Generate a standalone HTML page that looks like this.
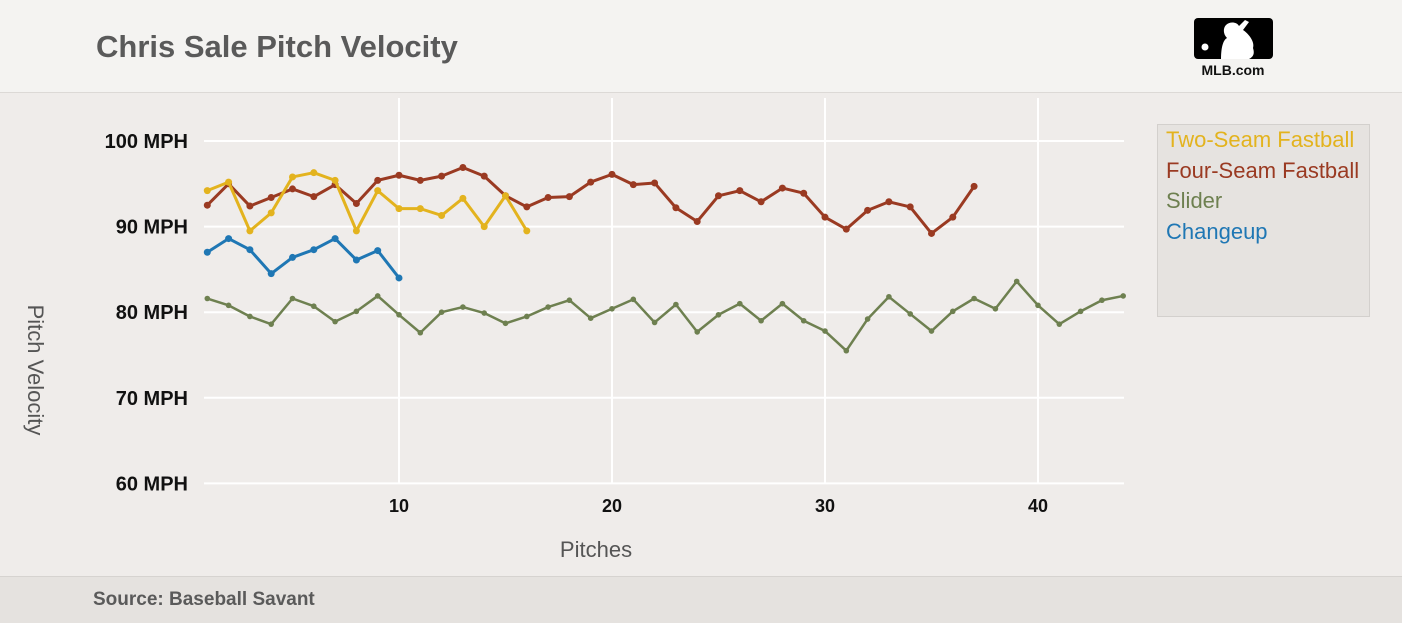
<!DOCTYPE html>
<html><head><meta charset="utf-8"><style>
body{margin:0;width:1402px;height:622px;overflow:hidden;background:#efecea;font-family:"Liberation Sans",sans-serif;}
#hdr{position:absolute;left:0;top:0;width:1402px;height:92px;background:#f4f3f1;border-bottom:1px solid #dcd9d6;}
#title{position:absolute;left:96px;top:29px;font-size:31px;font-weight:bold;color:#5a5a5a;}
#ftr{position:absolute;left:0;top:576px;width:1402px;height:46px;background:#e5e2df;border-top:1px solid #d6d3d0;}
#src{position:absolute;left:93px;top:12px;font-size:19px;font-weight:bold;color:#5a5a5a;}
#legend{position:absolute;left:1157px;top:124px;width:211px;height:191px;background:#e6e3e0;border:1px solid #d3d0cd;}
.li{position:absolute;left:8px;font-size:22px;white-space:nowrap;}
</style></head><body>
<div id="hdr">
<div id="title">Chris Sale Pitch Velocity</div>
<svg style="position:absolute;left:1193px;top:18px" width="82" height="62">
<rect x="1" y="0" width="79" height="41" rx="4" fill="#000"/>
<circle cx="12" cy="29" r="3.5" fill="#fff"/>
<path d="M28 41 C28 30 30 22 34 20 C30 16 30 10 33 7 C37 3 44 4 46 8 L52 2 L56 4 L50 12 C56 16 62 24 60 30 C62 36 60 39 56 41 Z" fill="#fff"/>
<text x="40" y="57" text-anchor="middle" font-size="14" font-weight="bold" font-family="Liberation Sans,sans-serif" fill="#111">MLB.com</text>
</svg>
</div>
<svg id="chart" style="position:absolute;left:0;top:0" width="1402" height="576"></svg>
<div id="legend">
<div class="li" style="top:2px;color:#e3b31e">Two-Seam Fastball</div>
<div class="li" style="top:33px;color:#9a3a22">Four-Seam Fastball</div>
<div class="li" style="top:63px;color:#6e8050">Slider</div>
<div class="li" style="top:94px;color:#1f77b4">Changeup</div>
</div>
<div id="ftr"><div id="src">Source: Baseball Savant</div></div>
<script>
const yTicks=[60,70,80,90,100];
const xTicks=[10,20,30,40];
const twoSeam=[94.2,95.2,89.5,91.6,95.8,96.3,95.4,89.5,94.2,92.1,92.1,91.3,93.3,90.0,93.6,89.5];
const fourSeam=[92.5,95.0,92.4,93.4,94.4,93.5,94.9,92.7,95.4,96.0,95.4,95.9,96.9,95.9,93.6,92.3,93.4,93.5,95.2,96.1,94.9,95.1,92.2,90.6,93.6,94.2,92.9,94.5,93.9,91.1,89.7,91.9,92.9,92.3,89.2,91.1,94.7];
const slider=[81.6,80.8,79.5,78.6,81.6,80.7,78.9,80.1,81.9,79.7,77.6,80.0,80.6,79.9,78.7,79.5,80.6,81.4,79.3,80.4,81.5,78.8,80.9,77.7,79.7,81.0,79.0,81.0,79.0,77.8,75.5,79.2,81.8,79.8,77.8,80.1,81.6,80.4,83.6,80.8,78.6,80.1,81.4,81.9];
const changeup=[87.0,88.6,87.3,84.5,86.4,87.3,88.6,86.1,87.2,84.0];
const NS='http://www.w3.org/2000/svg';
const svg=document.getElementById('chart');
const X=v=>399+(v-10)*21.3;
const Y=v=>141+(100-v)*8.56;
function mk(t,a,p){const e=document.createElementNS(NS,t);for(const k in a)e.setAttribute(k,a[k]);(p||svg).appendChild(e);return e;}
yTicks.forEach(t=>{
 const l=mk('line',{x1:204,x2:1124,y1:Y(t),y2:Y(t),stroke:'#fff','stroke-width':2});
 
 
 const tx=mk('text',{x:188,y:Y(t)+7,'text-anchor':'end','font-size':20,'font-weight':'bold',fill:'#111'});
 tx.textContent=t+' MPH';
 
 
});
xTicks.forEach(t=>{
 const l=mk('line',{x1:X(t),x2:X(t),y1:98,y2:Y(60),stroke:'#fff','stroke-width':2});
 
 
 const tx=mk('text',{x:X(t),y:512,'text-anchor':'middle','font-size':18,'font-weight':'bold',fill:'#111'});
 tx.textContent=t;
 
 
});
const xt=mk('text',{x:596,y:557,'text-anchor':'middle','font-size':22,fill:'#555'});xt.textContent='Pitches';


const yt=mk('text',{x:0,y:0,'text-anchor':'middle','font-size':22,fill:'#555',transform:'translate(28,370) rotate(90)'});yt.textContent='Pitch Velocity';


function series(data,color,name,w,r){
 const g=mk('g',{});
 
 
 const pts=data.map((v,i)=>X(i+1)+','+Y(v)).join(' ');
 const pl=mk('polyline',{points:pts,fill:'none',stroke:color,'stroke-width':w,'stroke-linejoin':'round'},g);
 
 
 data.forEach((v,i)=>{
  const c=mk('circle',{cx:X(i+1),cy:Y(v),r:r,fill:color},g);
  
  
 });
}
series(slider,'#6e8050','slider',2.5,2.8);
series(changeup,'#1f77b4','changeup',3,3.5);
series(fourSeam,'#9a3a22','four-seam',3,3.5);
series(twoSeam,'#e3b31e','two-seam',3,3.5);
</script>
</body></html>
